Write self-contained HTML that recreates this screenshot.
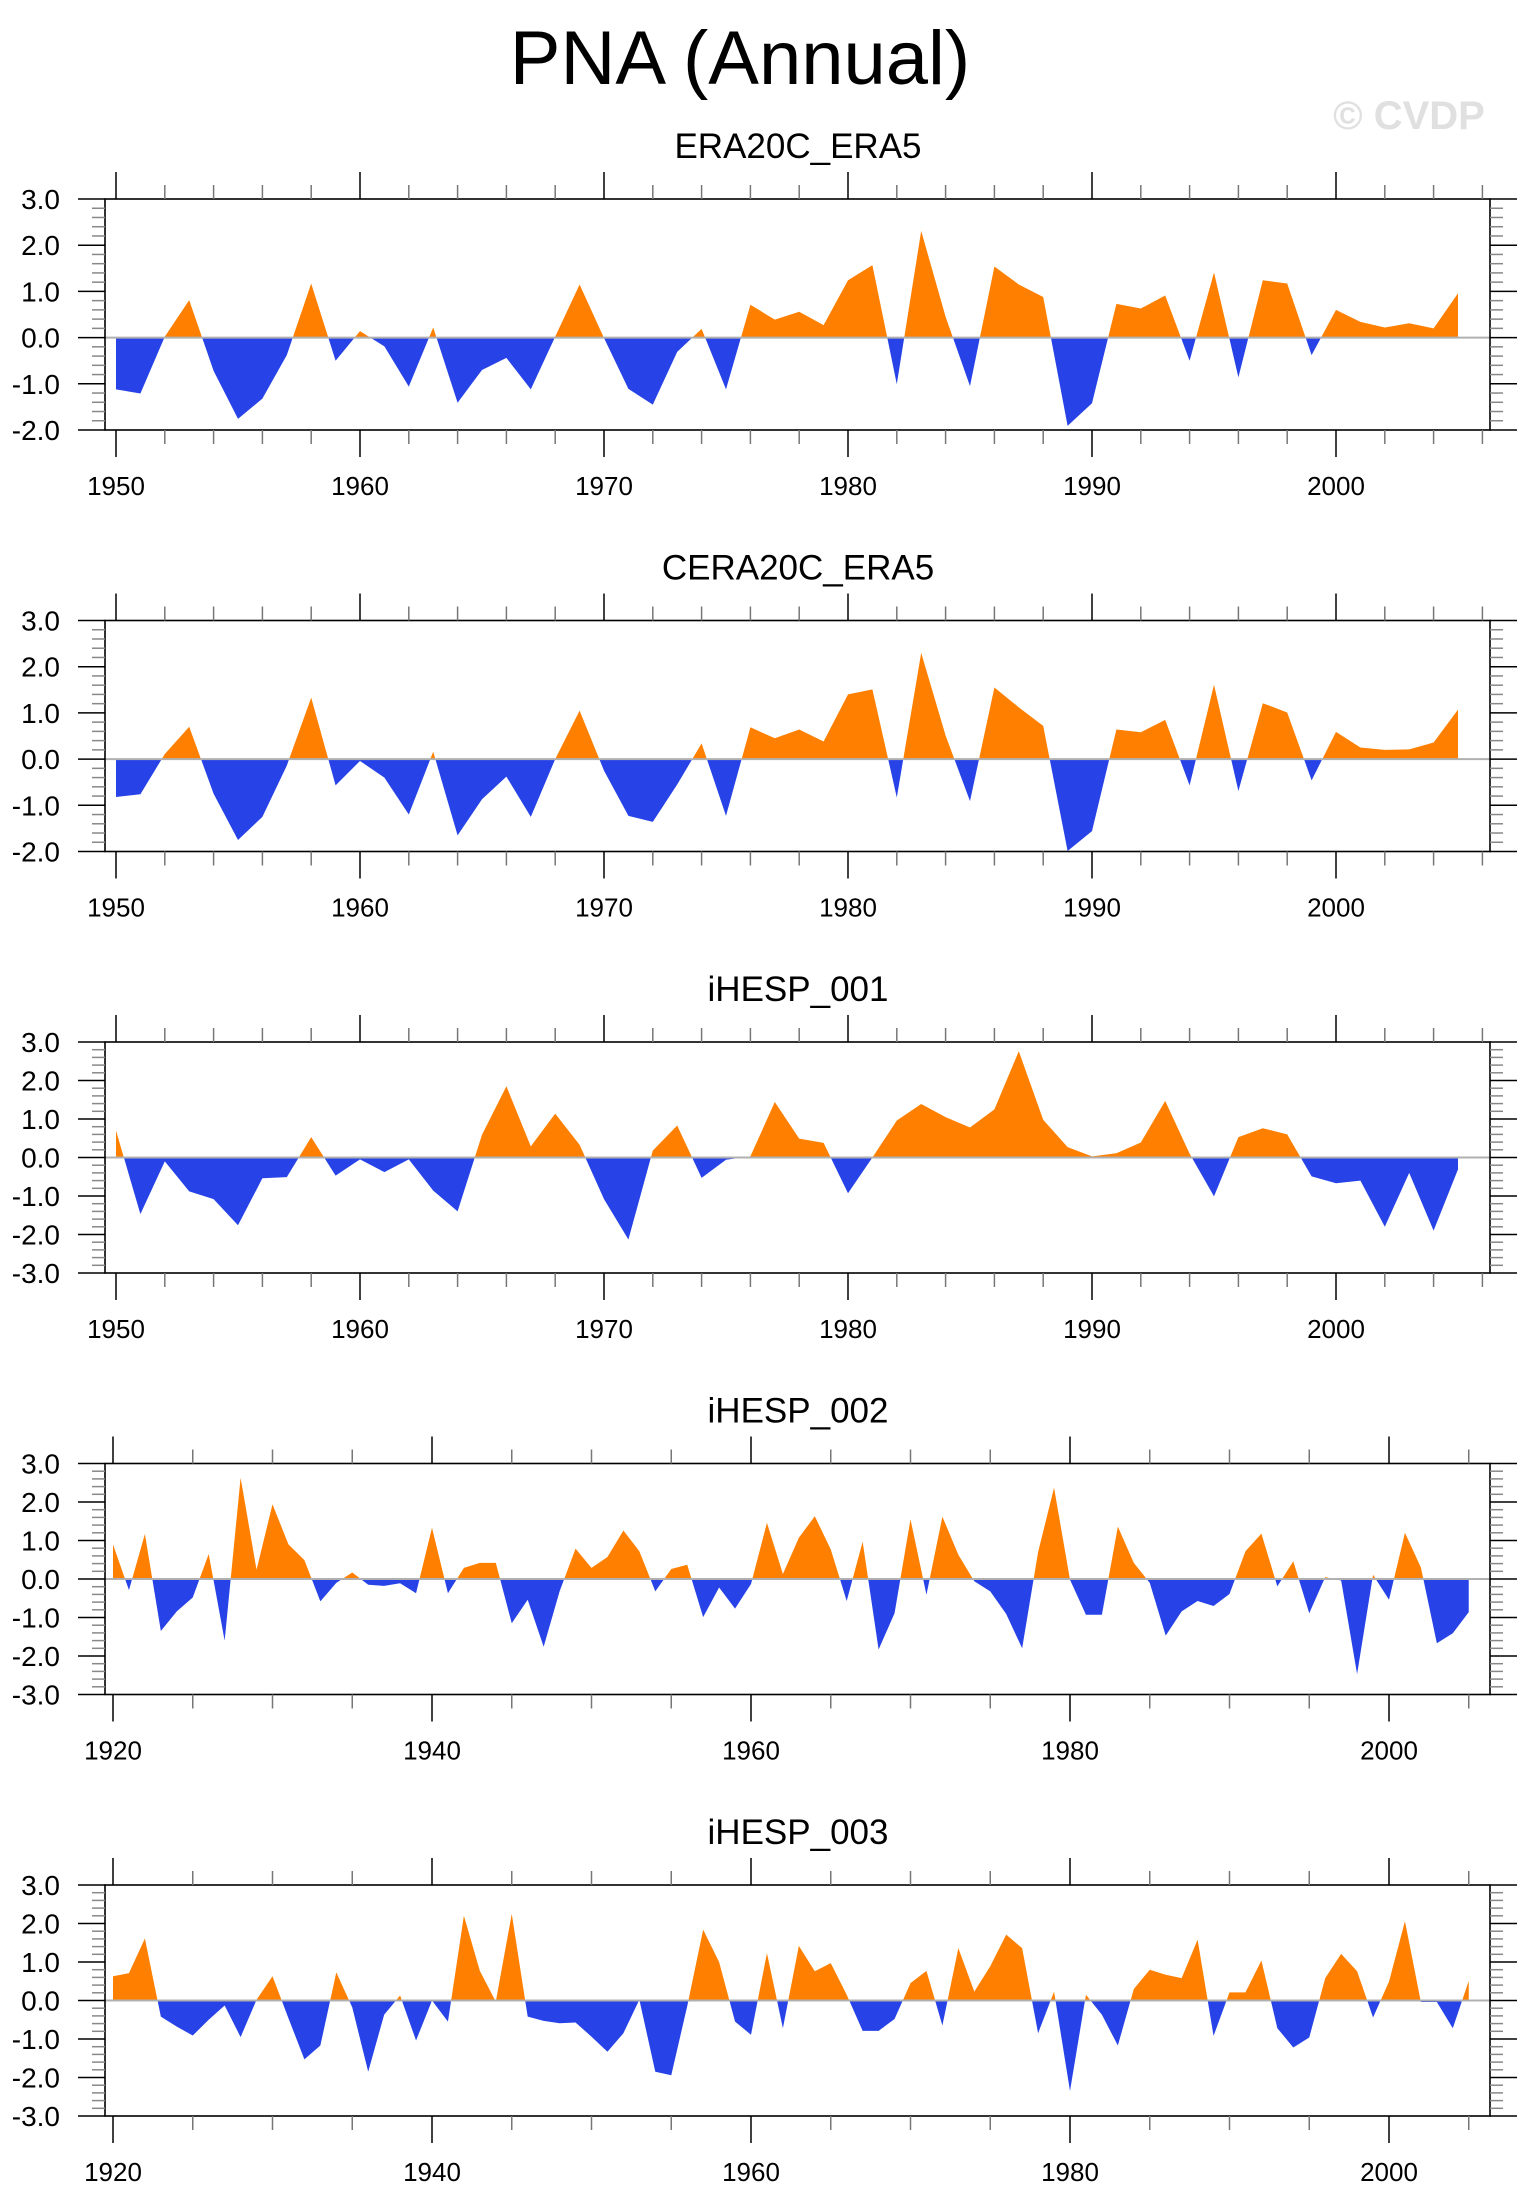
<!DOCTYPE html>
<html><head><meta charset="utf-8">
<style>
html,body{margin:0;padding:0;background:#fff;}
svg{display:block;font-family:"Liberation Sans",sans-serif;}
</style></head>
<body>
<svg id="chart" width="1533" height="2211" viewBox="0 0 1533 2211">
<text x="740" y="84" font-size="76" text-anchor="middle" fill="#000">PNA (Annual)</text>
<text x="1409" y="129" font-size="40" font-weight="bold" text-anchor="middle" fill="#e0e0e0">© CVDP</text>
</svg>
<script>
const titles = ["ERA20C_ERA5","CERA20C_ERA5","iHESP_001","iHESP_002","iHESP_003"];
const startYears = [1950,1950,1950,1920,1920];
const yMins = [-2,-2,-3,-3,-3];
const yMaxs = [3,3,3,3,3];
const era20c = [-1.12,-1.21,0.02,0.81,-0.72,-1.76,-1.32,-0.38,1.17,-0.5,0.14,-0.19,-1.06,0.22,-1.41,-0.7,-0.44,-1.12,0.02,1.15,-0.01,-1.11,-1.45,-0.31,0.19,-1.12,0.71,0.39,0.56,0.27,1.24,1.57,-1.01,2.31,0.45,-1.05,1.54,1.15,0.88,-1.91,-1.42,0.73,0.63,0.91,-0.5,1.41,-0.86,1.24,1.17,-0.38,0.6,0.34,0.22,0.31,0.2,0.96];
const cera20c = [-0.82,-0.76,0.11,0.7,-0.75,-1.75,-1.25,-0.14,1.33,-0.57,-0.04,-0.4,-1.2,0.16,-1.65,-0.87,-0.38,-1.25,0.0,1.05,-0.25,-1.23,-1.36,-0.55,0.34,-1.23,0.69,0.45,0.64,0.38,1.4,1.51,-0.83,2.3,0.51,-0.91,1.55,1.12,0.72,-1.99,-1.56,0.64,0.58,0.85,-0.57,1.61,-0.69,1.21,1.01,-0.46,0.59,0.25,0.2,0.21,0.36,1.07];
const ihesp001 = [0.7,-1.47,-0.1,-0.88,-1.08,-1.76,-0.54,-0.51,0.53,-0.47,-0.05,-0.38,-0.05,-0.86,-1.4,0.59,1.85,0.29,1.14,0.33,-1.08,-2.13,0.18,0.83,-0.53,-0.06,0.03,1.44,0.49,0.38,-0.93,0.0,0.96,1.39,1.05,0.78,1.25,2.76,0.98,0.27,0.03,0.11,0.39,1.47,0.1,-1.01,0.53,0.76,0.6,-0.49,-0.67,-0.6,-1.8,-0.4,-1.9,-0.31];
const ihesp002 = [0.9,-0.29,1.17,-1.35,-0.84,-0.48,0.65,-1.6,2.63,0.24,1.94,0.9,0.49,-0.58,-0.1,0.17,-0.15,-0.18,-0.11,-0.37,1.33,-0.37,0.29,0.42,0.42,-1.15,-0.54,-1.76,-0.32,0.79,0.29,0.57,1.26,0.72,-0.32,0.26,0.37,-0.99,-0.22,-0.77,-0.13,1.46,0.13,1.07,1.63,0.77,-0.57,0.97,-1.83,-0.89,1.55,-0.41,1.62,0.63,-0.06,-0.32,-0.91,-1.8,0.7,2.37,-0.02,-0.93,-0.93,1.36,0.42,-0.1,-1.47,-0.84,-0.57,-0.7,-0.39,0.72,1.18,-0.19,0.46,-0.89,0.05,-0.04,-2.47,0.11,-0.54,1.2,0.3,-1.67,-1.41,-0.86];
const ihesp003 = [0.63,0.71,1.61,-0.42,-0.68,-0.91,-0.5,-0.13,-0.95,0.02,0.63,-0.46,-1.53,-1.17,0.73,-0.18,-1.85,-0.37,0.13,-1.04,0.0,-0.55,2.2,0.77,-0.03,2.25,-0.42,-0.53,-0.59,-0.57,-0.94,-1.33,-0.85,0.02,-1.85,-1.94,-0.15,1.84,1.0,-0.55,-0.89,1.23,-0.72,1.42,0.76,0.97,0.15,-0.79,-0.79,-0.48,0.45,0.77,-0.65,1.36,0.23,0.89,1.71,1.36,-0.85,0.23,-2.35,0.15,-0.37,-1.17,0.3,0.8,0.67,0.58,1.58,-0.92,0.21,0.21,1.04,-0.72,-1.22,-0.96,0.58,1.21,0.76,-0.44,0.49,2.06,-0.04,-0.04,-0.72,0.51];
const seriesList = [era20c,cera20c,ihesp001,ihesp002,ihesp003];

const NS = "http://www.w3.org/2000/svg";
const svg = document.getElementById('chart');
function mk(tag, attrs, parent){const e=document.createElementNS(NS,tag);for(const k in attrs)e.setAttribute(k,attrs[k]);(parent||svg).appendChild(e);return e;}

const BL=105, BR=1490, BH=231, TOP0=199, PSTEP=421.5;
for(let p=0;p<5;p++){
  const top=TOP0+p*PSTEP, bot=top+BH;
  const vals=seriesList[p], y0=startYears[p];
  const long=(y0===1920);
  const px0 = long?113:116, ppy = long?15.95:24.4;
  const xf = yr => px0+(yr-(long?1920:1950))*ppy;
  const ymin=yMins[p], ymax=yMaxs[p];
  const yf = v => top+(ymax-v)/(ymax-ymin)*BH;
  const g=mk('g',{});
  
  
  const t=mk('text',{x:798,y:top-41,'font-size':35,'text-anchor':'middle',fill:'#000'},g);
  t.textContent=titles[p];
  
  
  const cid='c'+p, zy=yf(0);
  const defs=mk('defs',{},g);
  const cpA=mk('clipPath',{id:cid+'a'},defs); mk('rect',{x:BL,y:top,width:BR-BL,height:zy-top},cpA);
  const cpB=mk('clipPath',{id:cid+'b'},defs); mk('rect',{x:BL,y:zy,width:BR-BL,height:bot-zy},cpB);
  let pts=`${xf(y0)},${zy} `;
  vals.forEach((v,i)=>{pts+=`${xf(y0+i).toFixed(2)},${yf(v).toFixed(2)} `;});
  pts+=`${xf(y0+vals.length-1)},${zy}`;
  const pa=mk('polygon',{points:pts,fill:'#FF8000','clip-path':`url(#${cid}a)`},g);
  
  
  const pb=mk('polygon',{points:pts,fill:'#2743E8','clip-path':`url(#${cid}b)`},g);
  
  
  const zl=mk('line',{x1:BL,x2:BR,y1:zy,y2:zy,stroke:'#b0b0b0','stroke-width':2},g);
  
  
  const box=mk('rect',{x:BL,y:top,width:BR-BL,height:BH,fill:'none',stroke:'#000','stroke-width':1.6},g);
  
  
  const minorStep=long?5:2, majorStep=long?20:10;
  for(let yr=y0; xf(yr)<BR; yr+=minorStep){
    const x=xf(yr), major=(yr%majorStep===0);
    const L=major?27:14, col=major?'#000':'#777';
    mk('line',{x1:x,x2:x,y1:top,y2:top-L,stroke:col,'stroke-width':1.5},g);
    mk('line',{x1:x,x2:x,y1:bot,y2:bot+L,stroke:col,'stroke-width':1.5},g);
    if(major){
      const tl=mk('text',{x:x,y:bot+65,'font-size':26,'text-anchor':'middle',fill:'#000'},g);
      tl.textContent=String(yr);
      
      
    }
  }
  for(let k=Math.round(ymin*5);k<=Math.round(ymax*5);k++){
    const v=k/5, y=yf(v), major=(k%5===0);
    const L=major?27:13, col=major?'#000':'#888';
    mk('line',{x1:BL,x2:BL-L,y1:y,y2:y,stroke:col,'stroke-width':1.5},g);
    mk('line',{x1:BR,x2:BR+L,y1:y,y2:y,stroke:col,'stroke-width':1.5},g);
    if(major){
      const yl=mk('text',{x:60,y:y+10,'font-size':28,'text-anchor':'end',fill:'#000'},g);
      yl.textContent=v.toFixed(1);
      
      
    }
  }
}
</script>
</body></html>
